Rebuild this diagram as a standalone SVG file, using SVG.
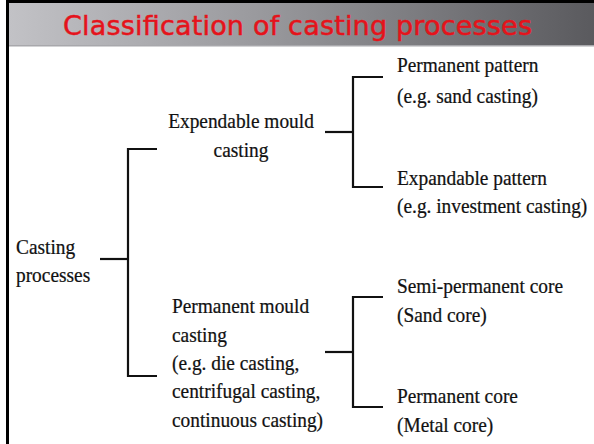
<svg xmlns="http://www.w3.org/2000/svg" width="594" height="444" viewBox="0 0 594 444">
<defs>
<linearGradient id="hdr" x1="0" y1="0" x2="1" y2="0">
<stop offset="0" stop-color="#c2c2c6"/>
<stop offset="0.45" stop-color="#97979b"/>
<stop offset="1" stop-color="#5a5a5e"/>
</linearGradient>
<style>
.t{font-family:"Liberation Serif","Times New Roman",serif;font-size:22px;fill:#111;stroke:#111;stroke-width:0.25;}
.m{text-anchor:middle;}
.ttl{font-family:"DejaVu Sans",Verdana,sans-serif;font-size:27px;fill:#e5131b;stroke:#e5131b;stroke-width:0.5;}
.c{fill:none;stroke:#111;stroke-width:2.2;}
</style>
</defs>
<rect x="0" y="0" width="594" height="444" fill="#fff"/>
<g id="header">
<rect x="9" y="3" width="585" height="43" fill="url(#hdr)"/>
<rect x="9" y="45" width="585" height="1.5" fill="#a8a8ac"/>
<text class="ttl" x="63" y="35" textLength="469" lengthAdjust="spacing">Classification of casting processes</text>
</g>
<g id="frame">
<rect x="6" y="0" width="3" height="444" fill="#000"/>
<rect x="6" y="0" width="588" height="3" fill="#000"/>
</g>
<g id="connectors">
<path class="c" d="M100,259 H128"/>
<path class="c" d="M157,149 H128 V376 H157"/>
<path class="c" d="M325,132 H353"/>
<path class="c" d="M383,77 H353 V187 H383"/>
<path class="c" d="M325,352 H353"/>
<path class="c" d="M383,297 H353 V407 H383"/>
</g>
<g id="casting-processes">
<text class="t" transform="translate(16,254) scale(0.88,1)">Casting</text>
<text class="t" transform="translate(16,282) scale(0.88,1)">processes</text>
</g>
<g id="expendable-mould">
<text class="t m" transform="translate(241,128) scale(0.88,1)">Expendable mould</text>
<text class="t m" transform="translate(241,157) scale(0.88,1)">casting</text>
</g>
<g id="permanent-mould">
<text class="t" transform="translate(172,313) scale(0.88,1)">Permanent mould</text>
<text class="t" transform="translate(172,342) scale(0.88,1)">casting</text>
<text class="t" transform="translate(172,370) scale(0.88,1)">(e.g. die casting,</text>
<text class="t" transform="translate(172,398) scale(0.88,1)">centrifugal casting,</text>
<text class="t" transform="translate(172,427) scale(0.88,1)">continuous casting)</text>
</g>
<g id="permanent-pattern">
<text class="t" transform="translate(397,72) scale(0.88,1)">Permanent pattern</text>
<text class="t" transform="translate(397,103) scale(0.88,1)">(e.g. sand casting)</text>
</g>
<g id="expandable-pattern">
<text class="t" transform="translate(397,185) scale(0.88,1)">Expandable pattern</text>
<text class="t" transform="translate(397,213) scale(0.88,1)">(e.g. investment casting)</text>
</g>
<g id="semi-permanent-core">
<text class="t" transform="translate(397,293) scale(0.88,1)">Semi-permanent core</text>
<text class="t" transform="translate(397,322) scale(0.88,1)">(Sand core)</text>
</g>
<g id="permanent-core">
<text class="t" transform="translate(397,403) scale(0.88,1)">Permanent core</text>
<text class="t" transform="translate(397,432) scale(0.88,1)">(Metal core)</text>
</g>
</svg>
